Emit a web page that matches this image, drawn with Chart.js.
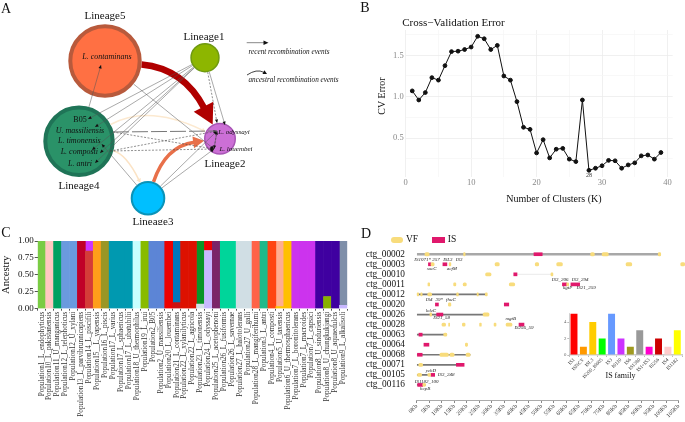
<!DOCTYPE html>
<html>
<head>
<meta charset="utf-8">
<script src="https://cdn.jsdelivr.net/npm/chart.js@4/dist/chart.umd.min.js"></script>
<style>
  html, body { margin: 0; padding: 0; background: #fff; }
  #page { position: relative; width: 685px; height: 422px; overflow: hidden; font-family: "Liberation Serif", serif; color: #111; }
  canvas { position: absolute; }
  .t { position: absolute; white-space: nowrap; transform: translate(-50%, -50%); line-height: 1; }
  .swatch { position: absolute; height: 6px; }
</style>
</head>
<body>
<div id="page">
  <canvas id="networkChart" style="left:0;top:0" width="340" height="225"></canvas>
  <canvas id="cvChart" style="left:340px;top:0" width="345" height="225"></canvas>
  <canvas id="ancestryChart" style="left:0;top:225px" width="360" height="197"></canvas>
  <canvas id="contigChart" style="left:355px;top:225px" width="330" height="197"></canvas>
  <canvas id="familyChart" style="left:555px;top:305px" width="130" height="78"></canvas>

  <div class="t" style="left:6px;top:9px;font-size:14px">A</div>
  <div class="t" style="left:365px;top:8px;font-size:14px">B</div>
  <div class="t" style="left:6px;top:233px;font-size:14px">C</div>
  <div class="t" style="left:366px;top:234px;font-size:14px">D</div>

  <div class="t" style="left:453.5px;top:22px;font-size:11px">Cross−Validation Error</div>
  <div class="t" style="left:554px;top:198.5px;font-size:10px">Number of Clusters (K)</div>
  <div class="t" style="left:381.5px;top:95.5px;font-size:10px;transform:translate(-50%,-50%) rotate(-90deg)">CV Error</div>
  <div class="t" style="left:620.5px;top:376px;font-size:8px">IS family</div>

  <div class="swatch" style="left:391px;top:237px;width:12px;background:#f8dc7c;border-radius:3px"></div>
  <div class="t" style="left:412px;top:240px;font-size:9.5px">VF</div>
  <div class="swatch" style="left:432px;top:237px;width:13px;background:#e0186c"></div>
  <div class="t" style="left:452px;top:240px;font-size:9.5px">IS</div>
</div>

<script>
// panel A: lineages and the points the recombination arrows attach to
const lineageNames = ['Lineage1', 'Lineage2', 'Lineage3', 'Lineage4', 'Lineage5'];
const lineageX = [205, 220, 148, 79, 105];
const lineageY = [57.7, 138.7, 198.3, 141.3, 61];
const lineageSize = [14.7, 16, 17.3, 35.7, 36.7];

const anchorNames = ['con', 'b05', 'mas', 'tim', 'tim2', 'com', 'ant', 'ody', 'odyTop', 'lou', 'masOut', 'comOut'];
const anchorX = [101, 88, 95, 92, 101.7, 100, 95, 217, 225, 214, 113, 110];
const anchorY = [65, 119, 127, 150, 144, 153, 163, 131, 125, 149, 132, 151];

const recentEdges = [
  ['Lineage1', 'b05'], ['Lineage1', 'mas'], ['Lineage1', 'tim'], ['Lineage1', 'com'], ['Lineage1', 'ant'],
  ['Lineage1', 'odyTop'], ['Lineage4', 'con'], ['Lineage5', 'lou'], ['Lineage3', 'tim2'],
  ['Lineage3', 'ody'], ['Lineage3', 'lou'], ['lou', 'ody']
];
const dashedEdges = [
  ['Lineage1', 'Lineage2'], ['masOut', 'lou'], ['comOut', 'ody'], ['comOut', 'lou'], ['ody', 'lou']
];
const longDashEdges = [['masOut', 'ody']];
// from, to, bend of the curve
const ancestralEdges = [
  ['Lineage5', 'Lineage2', 38],
  ['Lineage3', 'Lineage2', 29],
  ['Lineage4', 'Lineage2', 36],
  ['Lineage4', 'Lineage3', 20]
];

const speciesNames = ['L. contaminans', 'B05', 'U. massiliensis', 'L. timonensis', 'L. composti', 'L. antri', 'L. odyssayi', 'L. louembei'];
const speciesX = [107, 80, 80, 79.3, 79.3, 80, 234, 236];
const speciesY = [57.3, 120.3, 130.7, 141.3, 152.3, 163.7, 131.7, 149];
const lineageLabelX = [204, 225, 153, 79, 105];
const lineageLabelY = [37, 164, 222, 186, 16];

// panel B
const clusterK = [];
for (let k = 1; k <= 39; k++) clusterK.push(k);
const cvError = [1.07, 0.96, 1.05, 1.23, 1.2, 1.375, 1.545, 1.55, 1.57, 1.6, 1.73, 1.7, 1.57, 1.62, 1.25, 1.2, 0.94, 0.63, 0.605, 0.32,
  0.48, 0.26, 0.365, 0.375, 0.245, 0.215, 0.96, 0.11, 0.135, 0.165, 0.23, 0.225, 0.135, 0.175, 0.2, 0.285, 0.295, 0.245, 0.325];
const cvYTicks = [0.25, 0.5, 0.75, 1, 1.25, 1.5, 1.75];
const cvXTicks = [0, 5, 10, 15, 20, 25, 30, 35, 40];

// panel C
const populations = [
  'Population1_L_endophyticus', 'Population10_L_pakistanensis', 'Population11_U_manganicus', 'Population12_L_telephoticus',
  'Population12_U_xylani', 'Population13_L_parvibrunnicapiens', 'Population14_L_piscifili', 'Population15__L_yapensis',
  'Population16_L_piscis', 'Population17_L_varius', 'Population17_L_sphaericus', 'Population17_L_ubatubilii',
  'Population18_U_thermophilus', 'Population19_L_irui', 'Population2_B05', 'Population2_U_massiliensis',
  'Population20_L_louembei', 'Population21_L_contaminans', 'Population22_L_xylanilyticus', 'Population22_L_agricola',
  'Population23_L_timonensis', 'Population24_L_odyssayi', 'Population25_L_acetophenoni', 'Population26_L_fusiformis',
  'Population26_L_savernae', 'Population27_L_halotolerans', 'Population27_U_galli', 'Population28_L_mangiferihumi',
  'Population3_L_antri', 'Population4_L_composti', 'Population5_U_taxensis', 'Population6_U_thermosphaericus',
  'Population7_L_boronitolerans', 'Population7_L_macroides', 'Population7_L_capsici', 'Population8_U_sinduriensis',
  'Population8_U_chungkukjangi', 'Population8_U_aquaedulcis', 'Population9_L_alkalisoli'
];
const lowerShare = [1, 1, 1, 1, 1, 1, 0.85, 1, 1, 1, 1, 1, 1, 1, 1, 1, 1, 0.09, 1, 1, 0.07, 0.86, 1, 1, 1, 1, 1, 1, 1, 1, 0.03, 1, 1, 1, 1, 1, 0.18, 1, 0.05];
const upperShare = [0, 0, 0, 0, 0, 0, 0.15, 0, 0, 0, 0, 0, 0, 0, 0, 0, 0, 0.91, 0, 0, 0.93, 0.14, 0, 0, 0, 0, 0, 0, 0, 0, 0.97, 0, 0, 0, 0, 0, 0.82, 0, 0.95];

// panel D: [contig, start Kb, end Kb]
const contigs = ['ctg_00002', 'ctg_00003', 'ctg_00010', 'ctg_00011', 'ctg_00012', 'ctg_00020', 'ctg_00026', 'ctg_00028',
  'ctg_00063', 'ctg_00064', 'ctg_00068', 'ctg_00071', 'ctg_00105', 'ctg_00116', ''];
const kbTicks = [];
for (let kb = 0; kb <= 105; kb += 5) kbTicks.push(kb);
const mainContig = [['ctg_00002', 0, 97.5]];
const contigLines = [['ctg_00012', 0, 28], ['ctg_00026', 0, 27.6], ['ctg_00063', 0, 12], ['ctg_00068', 0, 21.4],
  ['ctg_00071', 0, 18.8], ['ctg_00105', 0, 6.7], ['ctg_00116', 0, 3.6]];
const faintLines = [['ctg_00010', 40, 54]];
const vfGenes = [
  ['ctg_00002', 3.3, 5], ['ctg_00002', 18.8, 19.4], ['ctg_00002', 69.7, 71.2], ['ctg_00002', 74.3, 76.8], ['ctg_00002', 96.8, 97.8],
  ['ctg_00003', 5.7, 7], ['ctg_00003', 13, 13.7], ['ctg_00003', 31.4, 33.1], ['ctg_00003', 47.5, 48.9], ['ctg_00003', 56.1, 58.4],
  ['ctg_00003', 83.9, 86.2], ['ctg_00003', 105.8, 107.4],
  ['ctg_00010', 27.6, 29.8], ['ctg_00010', 53.8, 54.6],
  ['ctg_00011', 4.5, 5.2], ['ctg_00011', 14.8, 15.7], ['ctg_00011', 18.6, 19.9], ['ctg_00011', 37.1, 39.3], ['ctg_00011', 60.1, 60.9],
  ['ctg_00012', 0, 0.8], ['ctg_00012', 1.6, 2.2], ['ctg_00012', 4.4, 6], ['ctg_00012', 16, 16.7], ['ctg_00012', 24.2, 24.7], ['ctg_00012', 27.5, 28.3],
  ['ctg_00020', 12.7, 13.7],
  ['ctg_00026', 5.3, 6], ['ctg_00026', 26.6, 29],
  ['ctg_00028', 10.1, 11.6], ['ctg_00028', 12.8, 13.2], ['ctg_00028', 18.3, 19.4], ['ctg_00028', 25.2, 25.9], ['ctg_00028', 31, 31.8], ['ctg_00028', 35.8, 38.2],
  ['ctg_00063', 10.8, 12.1],
  ['ctg_00064', 19.5, 20.4],
  ['ctg_00068', 9.3, 12.7], ['ctg_00068', 13.3, 15], ['ctg_00068', 19.8, 21.4],
  ['ctg_00071', 0.8, 2.4],
  ['ctg_00105', 0.3, 2], ['ctg_00105', 4.4, 5.6],
  ['ctg_00116', 2.4, 3.6]
];
const isGenes = [
  ['ctg_00002', 47, 50.3],
  ['ctg_00003', 4.7, 5.7], ['ctg_00003', 10.5, 12.1],
  ['ctg_00010', 38.9, 40.2],
  ['ctg_00011', 58.4, 60.1], ['ctg_00011', 61.8, 65.3],
  ['ctg_00020', 7.5, 8.7], ['ctg_00020', 35.1, 36.9],
  ['ctg_00026', 8, 10.5],
  ['ctg_00028', 41, 43],
  ['ctg_00063', 0.9, 2.2],
  ['ctg_00064', 2.9, 4.9],
  ['ctg_00068', 0.3, 2.2],
  ['ctg_00071', 15.9, 19],
  ['ctg_00105', 5.7, 7.2],
  ['ctg_00116', 0.4, 2.4]
];
// small gene names: text, Kb, contig row they sit next to, rows above (-) or below (+) it
const geneNames = ['IS1071*', '257', 'ISL3', 'IS3', 'sucC', 'acfM', 'IS4', '39*', 'fhuC', 'lolzC', 'IS21_58', 'mgtB', 'IS256_59',
  'ychD', 'IS3_248', 'IS1182_100', 'hcpB', 'IS3_206', 'IS3_294', 'kgtP', 'IS21_259'];
const geneKb = [2.4, 7.7, 12.5, 17, 6, 14.1, 5, 9, 13.7, 5.7, 10, 37.7, 43, 5.7, 11.8, 4, 3.4, 57.5, 65.5, 60.5, 67.9];
const geneRow = ['ctg_00003', 'ctg_00003', 'ctg_00003', 'ctg_00003', 'ctg_00003', 'ctg_00003', 'ctg_00020', 'ctg_00020', 'ctg_00020',
  'ctg_00026', 'ctg_00026', 'ctg_00028', 'ctg_00028', 'ctg_00105', 'ctg_00105', 'ctg_00116', 'ctg_00116',
  'ctg_00011', 'ctg_00011', 'ctg_00011', 'ctg_00011'];
const geneShift = [-0.47, -0.47, -0.47, -0.47, 0.43, 0.43, -0.5, -0.5, -0.5, -0.43, 0.33, -0.6, 0.27, -0.4, 0, -0.33, 0.33, -0.43, -0.43, 0.37, 0.37];

// inset of panel D
const isFamilies = ['IS1', 'ISNCY', 'ISL3', 'IS200_IS605', 'IS3', 'IS110', 'IS6', 'IS1380', 'IS1+IS3', 'IS256', 'IS4', 'IS1182'];
const isCounts = [5, 1, 4, 2, 5, 2, 1, 3, 1, 2, 1, 3];

// colours
const lineageFill = ['#8db600', '#cc6fd6', '#00bfff', '#2a9268', '#ff7043'];
const lineageEdge = ['#6f9a10', '#a855b5', '#0a93b8', '#1f7457', '#b85a3c'];
const lineageBorder = [1.5, 1.5, 2, 4, 4];
const ancestralColors = ['#b00000', '#e8704a', '#fce9d0', '#fbe3c5'];
const ancestralWidths = [6.5, 3.4, 1.5, 1.5];
const ancestralHeads = [[20, 11], [11, 6], [4, 2.5], [4, 2.5]];
const lowerColors = ['#7acc44', '#ffc8c0', '#00a060', '#6a9ade', '#6a9ade', '#c00028', '#d43c38', '#ff9e1a', '#9a9625', '#0099b0', '#0099b0', '#0099b0',
  '#c8ffff', '#88bb00', '#5c85d6', '#5c85d6', '#ee0000', '#cc1111', '#dd1100', '#dd1100', '#d5e0e8', '#c8b8ff', '#7b2468', '#00d59a', '#00d59a',
  '#d0dee4', '#d0dee4', '#ff6347', '#1fb98a', '#ff4511', '#ffc400', '#ffc000', '#cc33ee', '#cc33ee', '#cc33ee', '#3f00a0', '#88b000', '#3f00a0', '#c8b8ff'];
const upperColors = lowerColors.map((c, i) => ({ 6: '#cc33ff', 17: '#0077bb', 20: '#0a9428', 21: '#ee0000', 30: '#ffad90', 36: '#3f00a0', 38: '#7f8fa9' }[i] || c));
const familyColors = ['#ff0000', '#ff9900', '#ffcc00', '#00ff00', '#6699ff', '#cc33ff', '#a09a20', '#999999', '#ff00cc', '#cc0000', '#ffcccc', '#ffff00'];

Chart.defaults.font.family = '"Liberation Serif", serif';
Chart.defaults.animation = false;
Chart.defaults.responsive = false;
Chart.defaults.layout.autoPadding = false;
Chart.defaults.plugins.legend.display = false;
Chart.defaults.plugins.tooltip.enabled = false;

// network drawing for panel A, everything goes through the chart scales
function pointOf(name) {
  let i = lineageNames.indexOf(name);
  if (i >= 0) return { x: lineageX[i], y: lineageY[i], r: lineageSize[i] };
  i = anchorNames.indexOf(name);
  return { x: anchorX[i], y: anchorY[i], r: 0 };
}

function rim(p, toward) {
  const dx = toward.x - p.x, dy = toward.y - p.y;
  const len = Math.hypot(dx, dy) || 1;
  return { x: p.x + dx / len * p.r, y: p.y + dy / len * p.r };
}

function arrowHead(ctx, tip, from, length, half, color) {
  const a = Math.atan2(tip.y - from.y, tip.x - from.x);
  ctx.save();
  ctx.translate(tip.x, tip.y);
  ctx.rotate(a);
  ctx.fillStyle = color;
  ctx.beginPath();
  ctx.moveTo(0, 0);
  ctx.lineTo(-length, -half);
  ctx.lineTo(-length, half);
  ctx.closePath();
  ctx.fill();
  ctx.restore();
}

const networkOverlay = {
  id: 'networkOverlay',
  afterDatasetsDraw(chart) {
    const ctx = chart.ctx;
    const xs = chart.scales.x, ys = chart.scales.y;
    const px = p => ({ x: xs.getPixelForValue(p.x), y: ys.getPixelForValue(p.y) });

    function straight(edge, width, dash, color, head) {
      const a = pointOf(edge[0]), b = pointOf(edge[1]);
      const s = px(rim(a, b)), e = px(rim(b, a));
      ctx.save();
      ctx.strokeStyle = color;
      ctx.lineWidth = width;
      ctx.setLineDash(dash);
      ctx.beginPath();
      ctx.moveTo(s.x, s.y);
      ctx.lineTo(e.x, e.y);
      ctx.stroke();
      ctx.restore();
      if (head) arrowHead(ctx, e, s, 3.5, 1.6, '#111');
    }

    function curved(a, b, bend, width, color, head) {
      const dx = b.x - a.x, dy = b.y - a.y;
      const len = Math.hypot(dx, dy);
      const c = { x: (a.x + b.x) / 2 + dy / len * bend, y: (a.y + b.y) / 2 - dx / len * bend };
      const s = px(rim(a, c)), e = px(rim(b, c)), m = px(c);
      const back = Math.hypot(e.x - m.x, e.y - m.y);
      const stop = { x: e.x - (e.x - m.x) / back * head[0] * 0.9, y: e.y - (e.y - m.y) / back * head[0] * 0.9 };
      ctx.save();
      ctx.strokeStyle = color;
      ctx.lineWidth = width;
      ctx.beginPath();
      ctx.moveTo(s.x, s.y);
      ctx.quadraticCurveTo(m.x, m.y, stop.x, stop.y);
      ctx.stroke();
      ctx.restore();
      arrowHead(ctx, e, m, head[0], head[1], color);
    }

    ancestralEdges.forEach((edge, i) => {
      curved(pointOf(edge[0]), pointOf(edge[1]), edge[2], ancestralWidths[i], ancestralColors[i], ancestralHeads[i]);
    });
    recentEdges.forEach(edge => straight(edge, 0.5, [], '#555', true));
    dashedEdges.forEach(edge => straight(edge, 0.6, [2, 1.5], '#444', true));
    longDashEdges.forEach(edge => straight(edge, 1, [16, 3], '#777', false));

    // key next to the network
    const k1 = px({ x: 246.7, y: 42.7 }), k2 = px({ x: 268.5, y: 42.7 });
    ctx.strokeStyle = '#888';
    ctx.lineWidth = 1;
    ctx.beginPath();
    ctx.moveTo(k1.x, k1.y);
    ctx.lineTo(k2.x - 3, k2.y);
    ctx.stroke();
    arrowHead(ctx, k2, k1, 5, 2.2, '#111');
    curved({ x: 247, y: 75, r: 0 }, { x: 267, y: 74, r: 0 }, 6, 0.8, '#111', [4, 2]);

    // labels
    ctx.fillStyle = '#111';
    ctx.textAlign = 'center';
    ctx.textBaseline = 'middle';
    ctx.font = '11px "Liberation Serif"';
    lineageNames.forEach((name, i) => {
      const p = px({ x: lineageLabelX[i], y: lineageLabelY[i] });
      ctx.fillText(name, p.x, p.y);
    });
    speciesNames.forEach((name, i) => {
      const p = px({ x: speciesX[i], y: speciesY[i] });
      const size = i >= 6 ? 7 : 8;
      ctx.font = (name === 'B05' ? '' : 'italic ') + size + 'px "Liberation Serif"';
      ctx.fillText(name, p.x, p.y);
    });
    ctx.font = 'italic 7.2px "Liberation Serif"';
    let p = px({ x: 289, y: 52.5 });
    ctx.fillText('recent recombination events', p.x, p.y);
    p = px({ x: 293.5, y: 80 });
    ctx.fillText('ancestral recombination events', p.x, p.y);
  }
};

new Chart(document.getElementById('networkChart'), {
  type: 'bubble',
  data: {
    datasets: [{
      data: lineageNames.map((name, i) => ({ x: lineageX[i], y: lineageY[i], r: lineageSize[i] - lineageBorder[i] / 2 })),
      backgroundColor: lineageFill,
      borderColor: lineageEdge,
      borderWidth: lineageBorder,
      clip: false
    }]
  },
  options: {
    scales: {
      x: { type: 'linear', display: false, min: 0, max: 340 },
      y: { type: 'linear', display: false, min: 0, max: 225, reverse: true }
    }
  },
  plugins: [networkOverlay]
});

// the small "28" under the lowest point of panel B
const minLabel = {
  id: 'minLabel',
  afterDatasetsDraw(chart) {
    const low = cvError.indexOf(Math.min(...cvError));
    const ctx = chart.ctx;
    ctx.save();
    ctx.font = '6px "Liberation Serif"';
    ctx.fillStyle = '#333';
    ctx.textAlign = 'center';
    ctx.textBaseline = 'middle';
    ctx.fillText(String(clusterK[low]), chart.scales.x.getPixelForValue(clusterK[low]), chart.scales.y.getPixelForValue(cvError[low]) + 5.5);
    ctx.restore();
  }
};

new Chart(document.getElementById('cvChart'), {
  type: 'line',
  data: {
    datasets: [{
      data: clusterK.map((k, i) => ({ x: k, y: cvError[i] })),
      borderColor: '#111',
      backgroundColor: '#111',
      borderWidth: 1,
      pointRadius: 1.9,
      tension: 0
    }]
  },
  options: {
    layout: { padding: { top: 30, right: 12.3 } },
    scales: {
      x: {
        type: 'linear',
        min: 0,
        max: 40.8,
        afterBuildTicks: scale => { scale.ticks = cvXTicks.map(v => ({ value: v })); },
        afterFit: scale => { scale.height = 48; },
        ticks: {
          autoSkip: false,
          maxRotation: 0,
          padding: 1,
          color: '#888',
          font: { size: 8.5 },
          callback: v => (v % 10 === 0 ? v : '')
        },
        border: { display: false },
        grid: { drawTicks: false, color: ctx => (ctx.tick.value % 10 === 0 ? '#ececec' : '#f6f6f6'), lineWidth: 0.8 }
      },
      y: {
        type: 'linear',
        min: 0.029,
        max: 1.806,
        afterBuildTicks: scale => { scale.ticks = cvYTicks.map(v => ({ value: v })); },
        afterFit: scale => { scale.width = 65.7; },
        ticks: {
          autoSkip: false,
          padding: 2,
          color: '#888',
          font: { size: 8.5 },
          callback: v => (v * 2 % 1 === 0 ? v.toFixed(1) : '')
        },
        border: { display: false },
        grid: { drawTicks: false, color: ctx => (ctx.tick.value * 2 % 1 === 0 ? '#ececec' : '#f6f6f6'), lineWidth: 0.8 }
      }
    }
  },
  plugins: [minLabel]
});

new Chart(document.getElementById('ancestryChart'), {
  type: 'bar',
  data: {
    labels: populations,
    datasets: [
      { data: lowerShare, backgroundColor: lowerColors, barPercentage: 1, categoryPercentage: 1 },
      { data: upperShare, backgroundColor: upperColors, barPercentage: 1, categoryPercentage: 1 }
    ]
  },
  options: {
    layout: { padding: { top: 16, right: 12.7 } },
    scales: {
      x: {
        stacked: true,
        afterFit: scale => { scale.height = 113.3; },
        ticks: { autoSkip: false, minRotation: 90, maxRotation: 90, padding: 1, color: '#333', font: { size: 7.2 } },
        border: { display: false },
        grid: { drawOnChartArea: false, tickLength: 2, color: '#555' }
      },
      y: {
        stacked: true,
        min: 0,
        max: 1,
        afterFit: scale => { scale.width = 37.7; },
        title: { display: true, text: 'Ancestry', color: '#111', font: { size: 10.6 }, padding: 0 },
        ticks: { stepSize: 0.25, padding: 1, color: '#111', font: { size: 9 }, callback: v => v.toFixed(2) },
        border: { display: false },
        grid: { drawOnChartArea: false, tickLength: 3, color: '#555' }
      }
    }
  }
});

function toBars(list) {
  return list.map(item => ({ x: [item[1], item[2]], y: item[0] }));
}

// gene names in panel D
const geneLabels = {
  id: 'geneLabels',
  afterDatasetsDraw(chart) {
    const ctx = chart.ctx;
    const xs = chart.scales.x, ys = chart.scales.y;
    const rowStep = ys.getPixelForValue(1) - ys.getPixelForValue(0);
    ctx.save();
    ctx.font = 'italic 5px "Liberation Serif"';
    ctx.fillStyle = '#222';
    ctx.textAlign = 'center';
    ctx.textBaseline = 'middle';
    geneNames.forEach((name, i) => {
      const y = ys.getPixelForValue(contigs.indexOf(geneRow[i])) + geneShift[i] * rowStep;
      ctx.fillText(name, xs.getPixelForValue(geneKb[i]), y);
    });
    ctx.restore();
  }
};

new Chart(document.getElementById('contigChart'), {
  type: 'bar',
  data: {
    labels: contigs,
    datasets: [
      { data: toBars(vfGenes), backgroundColor: '#f8dc7c', barThickness: 3.2, borderRadius: 1.5, borderSkipped: false, grouped: false, clip: false },
      { data: toBars(isGenes), backgroundColor: '#e0186c', barThickness: 3, grouped: false, clip: false },
      { data: toBars(mainContig), backgroundColor: '#a8a8a8', barThickness: 2, grouped: false },
      { data: toBars(contigLines), backgroundColor: '#777', barThickness: 1, grouped: false },
      { data: toBars(faintLines), backgroundColor: '#eeeeee', barThickness: 0.7, grouped: false }
    ]
  },
  options: {
    indexAxis: 'y',
    layout: { padding: { top: 24.2, right: 6.3 } },
    scales: {
      x: {
        type: 'linear',
        min: 0,
        max: 105,
        afterBuildTicks: scale => { scale.ticks = kbTicks.map(v => ({ value: v })); },
        afterFit: scale => { scale.height = 22; },
        ticks: { autoSkip: false, minRotation: 45, maxRotation: 45, padding: 0, color: '#333', font: { size: 5.8 }, callback: v => v + 'Kb' },
        border: { display: true, color: '#aaa', width: 1 },
        grid: { drawOnChartArea: false, tickLength: 3, color: '#888' }
      },
      y: {
        type: 'category',
        afterFit: scale => { scale.width = 61.7; },
        ticks: { autoSkip: false, padding: 3.7, color: '#111', font: { size: 9.3 } },
        border: { display: false },
        grid: { display: false }
      }
    }
  },
  plugins: [geneLabels]
});

new Chart(document.getElementById('familyChart'), {
  type: 'bar',
  data: {
    labels: isFamilies,
    datasets: [{ data: isCounts, backgroundColor: familyColors, barPercentage: 0.74, categoryPercentage: 1 }]
  },
  options: {
    layout: { padding: { top: 8, right: 3 } },
    scales: {
      x: {
        afterFit: scale => { scale.height = 28; },
        ticks: { autoSkip: false, minRotation: 45, maxRotation: 45, padding: 0, color: '#333', font: { size: 5 } },
        border: { display: true, color: '#ccc', width: 1.5 },
        grid: { drawOnChartArea: false, tickLength: 2, color: '#bbb' }
      },
      y: {
        min: 0,
        max: 5.1,
        afterFit: scale => { scale.width = 14.3; },
        ticks: { stepSize: 1, padding: 1, color: '#666', font: { size: 4.8 } },
        border: { display: true, color: '#bbb', width: 0.7 },
        grid: { drawOnChartArea: false, tickLength: 2, color: '#bbb' }
      }
    }
  }
});
</script>
</body>
</html>
